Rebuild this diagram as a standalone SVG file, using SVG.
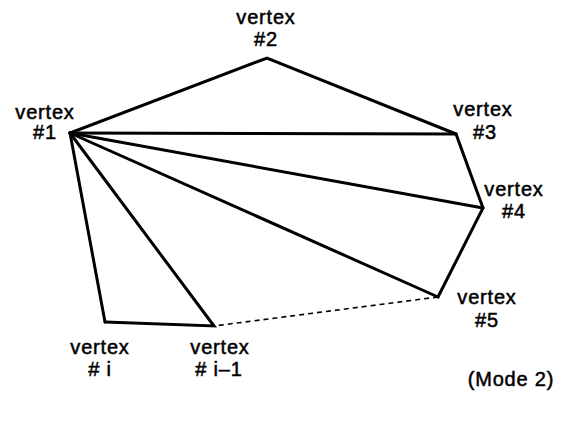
<svg xmlns="http://www.w3.org/2000/svg" width="581" height="424" viewBox="0 0 581 424">
<style>
.e{stroke:#000;stroke-width:3;fill:none;stroke-linecap:round;stroke-linejoin:miter}
.d{stroke:#000;stroke-width:1.6;fill:none;stroke-dasharray:5 4}
text{font-family:"Liberation Sans",Arial,sans-serif;font-size:20px;fill:#000;stroke:#000;stroke-width:0.5;text-anchor:middle;letter-spacing:0.8px}
</style>
<rect width="581" height="424" fill="#fff"/>
<g id="connectors">
<polyline class="e" points="105,322 70,133 267,58 456,134 483,208 438,297"/>
<polyline class="e" points="70,133 214,326 105,322"/>
<line class="e" x1="70" y1="133" x2="456" y2="134"/>
<line class="e" x1="70" y1="133" x2="483" y2="208"/>
<line class="e" x1="70" y1="133" x2="438" y2="297"/>
<line class="d" x1="438" y1="297" x2="214" y2="326"/>
</g>
<g id="v1"><text x="45" y="119">vertex</text><text x="45" y="139">#1</text></g>
<g id="v2"><text x="266" y="24">vertex</text><text x="266" y="46">#2</text></g>
<g id="v3"><text x="483" y="116">vertex</text><text x="485" y="139">#3</text></g>
<g id="v4"><text x="514" y="196">vertex</text><text x="514" y="218">#4</text></g>
<g id="v5"><text x="487" y="304">vertex</text><text x="487" y="327">#5</text></g>
<g id="vi"><text x="100" y="354">vertex</text><text x="100" y="376"># i</text></g>
<g id="vi1"><text x="220" y="354">vertex</text><text x="219" y="376"># i–1</text></g>
<text x="511" y="386">(Mode 2)</text>
</svg>
